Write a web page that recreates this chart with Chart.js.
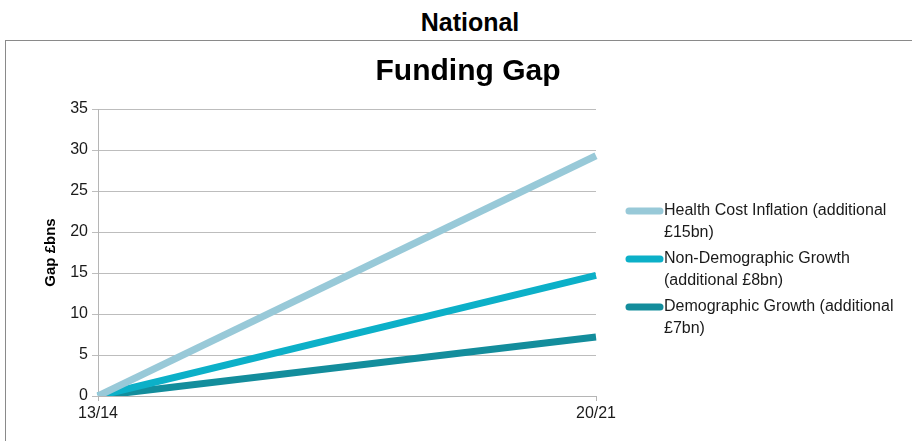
<!DOCTYPE html>
<html>
<head>
<meta charset="utf-8">
<script src="https://cdn.jsdelivr.net/npm/chart.js@4/dist/chart.umd.min.js"></script>
<style>
  body { margin: 0; background: #fff; }
  #wrap { position: relative; width: 912px; height: 441px; overflow: hidden; }
  #national { position: absolute; left: 0; top: 8px; width: 940px; text-align: center;
    font: bold 25px "Liberation Sans", Arial, sans-serif; color: #000; }
  #box { position: absolute; left: 5px; top: 40px; width: 940px; height: 440px; border: 1px solid #8a8a8a; }
  #chart { position: absolute; left: 0; top: 0; }
</style>
</head>
<body>
<div id="wrap">
  <div id="national">National</div>
  <div id="box"></div>
  <canvas id="chart" width="912" height="441"></canvas>
</div>
<script>
// dữ liệu
const categories = ["13/14", "20/21"];
const healthCost = [0, 29.3];
const nonDemographic = [0, 14.7];
const demographic = [0, 7.2];
const seriesNames = [
    ["Health Cost Inflation (additional", "£15bn)"],
    ["Non-Demographic Growth", "(additional £8bn)"],
    ["Demographic Growth (additional", "£7bn)"]
];
const seriesColors = ["#98c9d8", "#0cb0c8", "#138d9c"];

const FONT = '"Liberation Sans", Arial, sans-serif';

// tiêu đề + chú thích vẽ tay
const extras = {
    id: "extras",
    afterDraw(chart) {
        const ctx = chart.ctx;
        ctx.save();
        ctx.fillStyle = "#000";
        ctx.font = "bold 30px " + FONT;
        ctx.textAlign = "center";
        ctx.textBaseline = "middle";
        ctx.fillText("Funding Gap", 468, 72);

        ctx.font = "16px " + FONT;
        ctx.textAlign = "left";
        chart.data.datasets.forEach(function(ds, i) {
            const y = 211 + i * 48;
            ctx.strokeStyle = ds.borderColor;
            ctx.lineWidth = 7;
            ctx.lineCap = "round";
            ctx.beginPath();
            ctx.moveTo(629, y);
            ctx.lineTo(660, y);
            ctx.stroke();
            ctx.fillStyle = "#1a1a1a";
            ds.label.forEach(function(line, j) {
                ctx.fillText(line, 664, y + j * 22);
            });
        });
        ctx.restore();
    }
};

const ctx = document.getElementById("chart").getContext("2d");
new Chart(ctx, {
    type: "line",
    data: {
        labels: categories,
        datasets: [healthCost, nonDemographic, demographic].map(function(values, i) {
            return {
                label: seriesNames[i],
                data: values,
                borderColor: seriesColors[i],
                backgroundColor: seriesColors[i],
                borderWidth: 7,
                pointRadius: 0,
                tension: 0
            };
        })
    },
    options: {
        responsive: false,
        animation: false,
        layout: { padding: { top: 109, right: 316, left: 0, bottom: 0 } },
        plugins: {
            legend: { display: false },
            title: { display: false },
            tooltip: { enabled: false }
        },
        scales: {
            x: {
                offset: false,
                grid: { drawOnChartArea: false, drawTicks: true, tickLength: 5, color: "#b5b5b5" },
                border: { display: true, color: "#b5b5b5" },
                ticks: { color: "#1a1a1a", font: { family: FONT, size: 16 }, padding: 3, maxRotation: 0 },
                afterFit(scale) { scale.height = 45; }
            },
            y: {
                min: 0,
                max: 35,
                ticks: { stepSize: 5, color: "#1a1a1a", font: { family: FONT, size: 16 }, padding: 4 },
                grid: { color: "#bdbdbd", tickLength: 6 },
                border: { display: true, color: "#b5b5b5" },
                title: {
                    display: true,
                    text: "Gap £bns",
                    color: "#000",
                    font: { family: FONT, size: 15, weight: "bold" },
                    padding: { top: 42, bottom: 0 }
                },
                afterFit(scale) { scale.width = 98; }
            }
        }
    },
    plugins: [extras]
});
</script>
</body>
</html>
